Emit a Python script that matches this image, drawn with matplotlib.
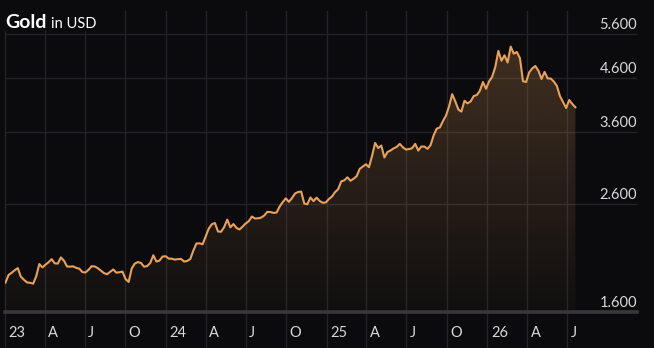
import numpy as np
import pandas as pd
import matplotlib
matplotlib.use("Agg")
import matplotlib.pyplot as plt
from matplotlib.patches import Rectangle

# ---------------- data ----------------
start_date = "2023-01-02"
prices = [
    1826, 1890, 1909, 1931, 1950, 1876, 1850, 1828, 1825, 1818,
    1880, 1986, 1956, 1980, 2002, 2030, 1992, 1990, 2046, 2016,
    1964, 1963, 1965, 1952, 1944, 1915, 1912, 1936, 1967, 1964,
    1949, 1927, 1906, 1897, 1917, 1938, 1910, 1914, 1919, 1856,
    1832, 1948, 1990, 2004, 1995, 1962, 1968, 1995, 2066, 2008,
    2017, 2054, 2057, 2035, 2034, 2026, 2030, 2032, 2008, 2014,
    2031, 2111, 2178, 2180, 2171, 2248, 2330, 2376, 2389, 2299,
    2297, 2346, 2426, 2343, 2378, 2336, 2321, 2351, 2385, 2409,
    2460, 2438, 2440, 2448, 2471, 2512, 2510, 2501, 2504, 2573,
    2625, 2670, 2628, 2672, 2729, 2747, 2752, 2607, 2600, 2680,
    2636, 2678, 2638, 2617, 2621, 2662, 2692, 2746, 2782, 2882,
    2895, 2935, 2890, 2916, 2950, 3049, 3081, 3113, 3072, 3232,
    3426, 3349, 3387, 3209, 3289, 3312, 3343, 3366, 3412, 3360,
    3326, 3333, 3346, 3412, 3311, 3372, 3370, 3337, 3393, 3546,
    3654, 3674, 3780, 3876, 4040, 4268, 4135, 3984, 3946, 4144,
    4095, 4131, 4231, 4252, 4335, 4509, 4373, 4523, 4618, 4824,
    5185, 4963, 5085, 4923, 5289, 5122, 5162, 5019, 4523, 4509,
    4707, 4794, 4846, 4743, 4571, 4719, 4583, 4579, 4519, 4428,
    4229, 4120, 4011, 4158, 4084, 4024,
]
dates = pd.date_range(start_date, periods=len(prices), freq="7D")

tick_dates = pd.date_range("2023-01-01", "2026-07-01", freq="QS")
tick_labels = ["23", "A", "J", "O", "24", "A", "J", "O",
               "25", "A", "J", "O", "26", "A", "J"]
y_ticks = [1600, 2600, 3600, 4600, 5600]
y_tick_labels = ["1.600", "2.600", "3.600", "4.600", "5.600"]

title_main = "Gold"
title_sub = "in USD"

# ---------------- style ----------------
BG = "#0b0b0e"
GRID = "#232327"
AXIS = "#38383c"
LINE = "#eaa158"
TXT = "#d9d9d9"
FONT = ["Lato", "DejaVu Sans"]
plt.rcParams["font.family"] = FONT

W, H = 654, 348
fig = plt.figure(figsize=(W / 100, H / 100), dpi=100, facecolor=BG)
left_px, right_px, top_px, bot_px = 5, 637, 11, 312
ax = fig.add_axes([left_px / W, (H - bot_px) / H,
                   (right_px - left_px) / W, (bot_px - top_px) / H])
ax.set_facecolor(BG)
for s in ax.spines.values():
    s.set_visible(False)

ax.set_yscale("log")
xmin, xmax = pd.Timestamp("2023-01-01"), pd.Timestamp("2026-12-07")
ymin, ymax = 1600, 6208

# gridlines
for d in tick_dates:
    ax.axvline(d, ymin=-0.125, ymax=1, color=GRID, lw=1.0, clip_on=False, zorder=0.5)
for v in y_ticks[1:]:
    ax.axhline(v, color=GRID, lw=1.0, zorder=0.5)
ax.axhline(y_ticks[0], color=AXIS, lw=2.6, clip_on=False, zorder=3)

# gradient fill under the line
poly = ax.fill_between(dates, prices, ymin, color="none", lw=0)
n = 256
alpha = np.linspace(0.31, 0.03, n)
grad = np.zeros((n, 1, 4))
grad[:, 0, 0] = 0.80
grad[:, 0, 1] = 0.56
grad[:, 0, 2] = 0.32
grad[:, 0, 3] = alpha
im = ax.imshow(grad, extent=[0, 1, 0, 1], transform=ax.transAxes,
               aspect="auto", zorder=1, interpolation="bilinear")
im.set_clip_path(poly.get_paths()[0], transform=ax.transData)

ax.plot(dates, prices, color=LINE, lw=1.5, zorder=2, solid_joinstyle="round")

ax.set_xlim(xmin, xmax)
ax.set_ylim(ymin, ymax)
ax.set_xticks([])
ax.set_yticks([])
ax.minorticks_off()

# x tick labels
for d, lab in zip(tick_dates, tick_labels):
    ax.annotate(lab, xy=(d, 0), xycoords=("data", "axes fraction"),
                xytext=(2.6, -18.0), textcoords="offset points",
                ha="left", va="baseline", color=TXT, fontsize=10.5,
                annotation_clip=False)

# y tick labels
for v, lab in zip(y_ticks, y_tick_labels):
    ax.annotate(lab, xy=(1, v), xycoords=("axes fraction", "data"),
                xytext=(0, 3.6), textcoords="offset points",
                ha="right", va="baseline", color=TXT, fontsize=10.5,
                annotation_clip=False)

# title block covering grid lines
fig.add_artist(Rectangle((0, 1 - 31 / H), 112 / W, 31 / H,
                         transform=fig.transFigure, facecolor=BG,
                         edgecolor="none", zorder=5))
fig.text(5.5 / W, 1 - 27.7 / H, title_main, fontsize=14, fontweight="bold",
         color="white", va="baseline", ha="left", zorder=6)
fig.text(51 / W, 1 - 27.7 / H, title_sub, fontsize=10.5,
         color="white", va="baseline", ha="left", zorder=6)

fig.savefig("out.png", dpi=100, facecolor=BG)
